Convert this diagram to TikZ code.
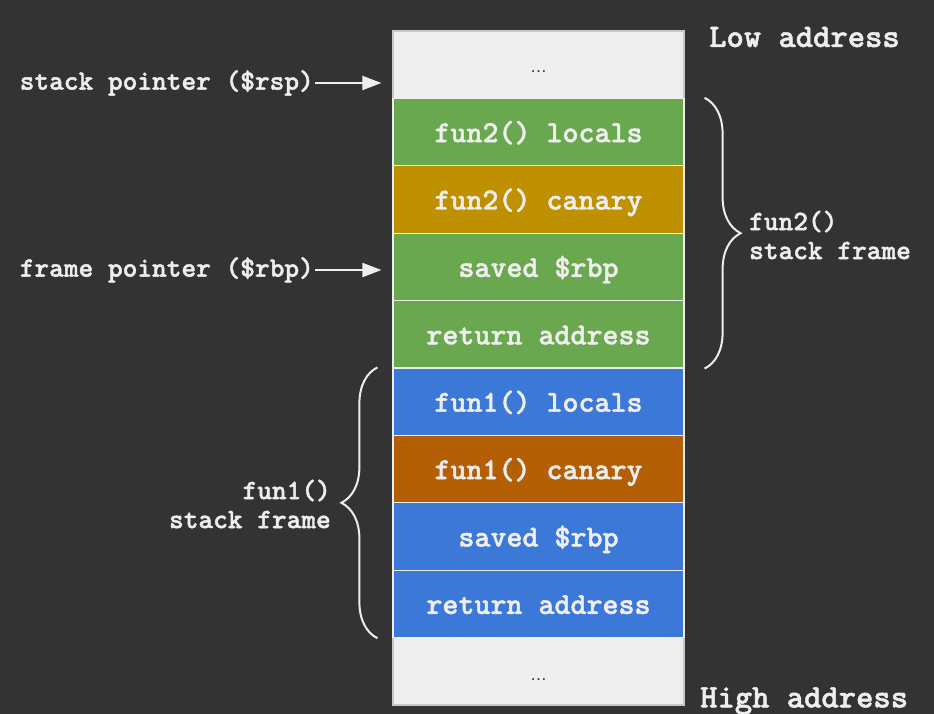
\documentclass[tikz,border=0pt]{standalone}
\usepackage{fontspec}
\newfontfamily\dotsfont{Liberation Sans}
\newfontfamily\stackfont{lmmonolt10-bold}[Extension=.otf, FakeBold=1.5]
\usetikzlibrary{arrows.meta}
\usetikzlibrary{decorations.pathreplacing}
\definecolor{bgdark}{HTML}{333333}
\definecolor{cellgray}{HTML}{EEEEEE}
\definecolor{edgegray}{HTML}{C8C8C8}
\definecolor{fungreen}{HTML}{6AA84F}
\definecolor{fungold}{HTML}{BF9000}
\definecolor{funblue}{HTML}{3C78D8}
\definecolor{funbrown}{HTML}{B45F06}
\definecolor{lighttext}{HTML}{EEEEEE}

\begin{document}
\begin{tikzpicture}[
  x=1pt, y=-1pt,
  cell/.style={
    rectangle,
    draw=lighttext,
    line width=1.2pt,
    fill=#1,
    minimum width=291pt,
    minimum height=67.4pt,
    inner sep=0,
    text height=22pt,
    text depth=2pt,
    text=lighttext,
    font=\stackfont\fontsize{30.5}{33}\selectfont},
  lbl/.style={text=lighttext, inner sep=0,
    font=\stackfont\fontsize{28}{29}\selectfont},
  addr/.style={text=lighttext, inner sep=0, anchor=west,
    font=\stackfont\fontsize{33}{36}\selectfont},
  ellip/.style={text=bgdark, inner sep=0,
    font=\dotsfont\fontsize{17}{20}\selectfont},
  ptr/.style={draw=lighttext, line width=2pt, shorten <=1pt, shorten >=11pt,
    -{Triangle[length=19pt,width=14pt]}},
  brc/.style={draw=lighttext, line width=2pt, decorate,
    decoration={brace,amplitude=36pt}}]
  \useasboundingbox (0,0) rectangle (934,714);
  % dark background
  \fill[bgdark] (0,0) rectangle (934,714);
  % show the open ends of the stack
  \node[cell=cellgray, draw=edgegray] (cell0) at (538.5, 64.7) {};
  \node[cell=cellgray, draw=edgegray] (cell9) at (538.5, 671.3) {};
  \node[ellip] (topdots) at ([yshift=-7pt]cell0.center) {…};
  \node[ellip] (botdots) at ([yshift=-8pt]cell9.center) {…};
  % draw the slots of both frames
  \foreach \txt/\col [count=\i from 1] in {fun2() locals/fungreen,fun2() canary/fungold,
      saved \$rbp/fungreen,return address/fungreen,fun1() locals/funblue,
      fun1() canary/funbrown,saved \$rbp/funblue,return address/funblue}
    \node[cell=\col] (cell\i) at (538.5, 31+67.4*\i+33.7) {\txt};
  % pointer labels and their arrows
  \node[lbl, anchor=east] (rsp) at (314, 83) {stack pointer (\$rsp)};
  \node[lbl, anchor=east] (rbp) at (314, 270) {frame pointer (\$rbp)};
  \draw[ptr] (rsp.east) -- (rsp.east -| cell0.west);
  \draw[ptr] (rbp.east) -- (rbp.east -| cell3.west);
  % braces round the frames
  \draw[brc] ([xshift=20pt]cell1.north east) -- ([xshift=20pt]cell4.south east);
  \draw[brc] ([xshift=-15pt]cell8.south west) -- ([xshift=-15pt]cell5.north west);
  \node[lbl, anchor=west, align=left] (f2frame) at (749, 235) {fun2()\\stack frame};
  \node[lbl, anchor=east, align=right] (f1frame) at (331, 504) {fun1()\\stack frame};
  % address direction labels
  \node[addr] (low) at (709, 37) {Low address};
  \node[addr] (high) at (700, 701) {High address};
\end{tikzpicture}
\end{document}
